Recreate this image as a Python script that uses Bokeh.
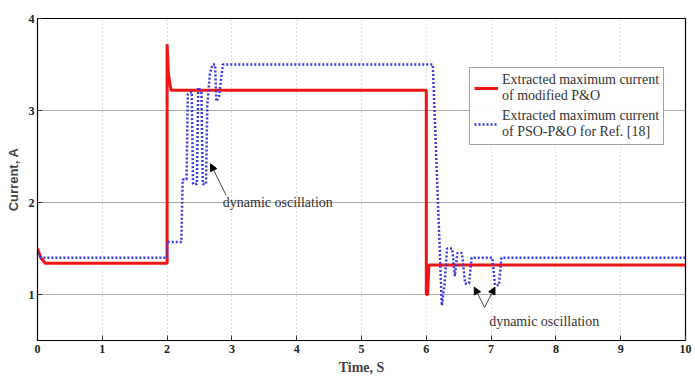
from bokeh.plotting import figure
from bokeh.models import Range1d, Legend, LegendItem, Arrow, NormalHead, Label, FixedTicker
from bokeh.embed import file_html
from bokeh.resources import INLINE

# ---- data ----
red_t = [0, 0.05, 0.12, 2.0, 2.0, 2.02, 2.06, 6.0, 6.0, 6.02, 6.04, 10]
red_v = [1.5, 1.4, 1.34, 1.34, 3.72, 3.4, 3.22, 3.22, 1.0, 1.0, 1.32, 1.32]

blue_t = [0, 0.06, 2.0, 2.0, 2.22, 2.24, 2.3, 2.32, 2.38, 2.4, 2.46, 2.48, 2.53, 2.55,
          2.6, 2.62, 2.66, 2.7, 2.74, 2.76, 2.8, 2.86, 6.1, 6.24, 6.28, 6.32, 6.4, 6.44,
          6.48, 6.55, 6.6, 6.66, 6.7, 7.02, 7.06, 7.12, 7.16, 10]
blue_v = [1.45, 1.40, 1.40, 1.57, 1.57, 2.25, 2.25, 3.18, 3.2, 2.2, 2.2, 3.25, 3.2, 2.2,
          2.2, 3.05, 3.4, 3.5, 3.5, 3.1, 3.15, 3.5, 3.5, 0.88, 1.1, 1.5, 1.5, 1.2,
          1.45, 1.45, 1.12, 1.12, 1.40, 1.40, 1.1, 1.1, 1.40, 1.40]

x_ticks = [0, 1, 2, 3, 4, 5, 6, 7, 8, 9, 10]
y_ticks = [1, 2, 3, 4]

red_label = "Extracted maximum current\nof modified P&O"
blue_label = "Extracted maximum current\nof PSO-P&O for Ref. [18]"
annot_text = "dynamic oscillation"

p = figure(width=695, height=381, output_backend="svg", toolbar_location=None,
           x_range=Range1d(0, 10), y_range=Range1d(0.5, 4),
           min_border_left=37, min_border_right=10, min_border_top=18, min_border_bottom=41)

p.outline_line_color = "black"
p.outline_line_width = 1.2

# grid
p.xgrid.ticker = FixedTicker(ticks=x_ticks)
p.ygrid.ticker = FixedTicker(ticks=y_ticks)
p.xgrid.grid_line_color = "#b8b8b8"
p.xgrid.grid_line_dash = "1 3"
p.ygrid.grid_line_color = "#a8a8a8"
p.ygrid.grid_line_width = 1

xax = p.xaxis[0]
yax = p.yaxis[0]
for ax, ticks in ((xax, x_ticks), (yax, y_ticks)):
    ax.ticker = FixedTicker(ticks=ticks)
    ax.major_tick_in = 5
    ax.major_tick_out = 0
    ax.minor_tick_line_color = None
    ax.axis_line_color = "black"
    ax.major_tick_line_color = "#333333"
    ax.major_label_text_font = "Liberation Serif"
    ax.major_label_text_font_style = "bold"
    ax.major_label_text_font_size = "12px"
    ax.major_label_text_color = "#222222"

xax.axis_label = "Time, S"
xax.axis_label_text_font = "Liberation Serif"
xax.axis_label_text_font_style = "bold"
xax.axis_label_text_font_size = "14px"
xax.axis_label_standoff = 4
xax.major_label_standoff = 4

yax.axis_label = "Current, A"
yax.axis_label_text_font = "Liberation Sans"
yax.axis_label_text_font_style = "bold"
yax.axis_label_text_font_size = "13px"
yax.axis_label_standoff = 5
yax.major_label_standoff = 3

r_red = p.line(red_t, red_v, line_color="#f01515", line_width=3)
r_blue = p.line(blue_t, blue_v, line_color="#3a3ae0", line_width=2.5, line_dash="2 2")

legend = Legend(items=[LegendItem(label=red_label, renderers=[r_red]),
                       LegendItem(label=blue_label, renderers=[r_blue])],
                location=(432, 195))
legend.label_text_font = "Liberation Serif"
legend.label_text_font_size = "14px"
legend.label_text_line_height = 1.35
legend.label_text_color = "#333333"
legend.border_line_color = "#444444"
legend.border_line_width = 1
legend.glyph_width = 24
legend.spacing = 4
legend.padding = 4
legend.margin = 0
legend.label_standoff = 4
p.add_layout(legend)

# annotations
head = dict(size=7, fill_color="black", line_color="black")
p.add_layout(Arrow(end=NormalHead(**head), x_start=2.91, y_start=2.08, x_end=2.67, y_end=2.42,
                   line_color="#444444", line_width=1))
p.add_layout(Label(x=2.86, y=2.0, text=annot_text, text_font="Liberation Serif",
                   text_font_size="14px", text_color="#333333", text_baseline="middle"))

p.add_layout(Arrow(end=NormalHead(**head), x_start=6.9, y_start=0.86, x_end=6.74, y_end=1.08,
                   line_color="#444444", line_width=1))
p.add_layout(Arrow(end=NormalHead(**head), x_start=6.9, y_start=0.86, x_end=7.06, y_end=1.08,
                   line_color="#444444", line_width=1))
p.add_layout(Label(x=6.97, y=0.71, text=annot_text, text_font="Liberation Serif",
                   text_font_size="14px", text_color="#333333", text_baseline="middle"))

open("out.html", "w").write(file_html(p, INLINE))
